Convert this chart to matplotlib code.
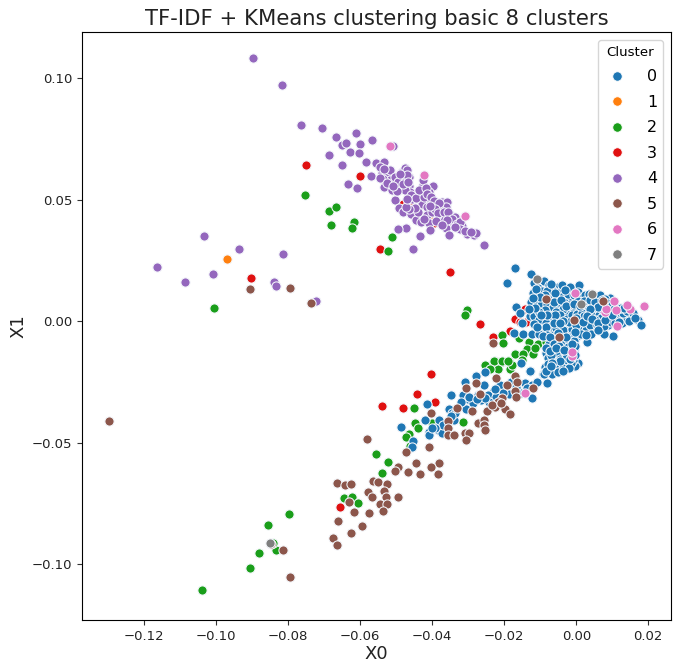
import matplotlib
matplotlib.use("Agg")
import matplotlib.pyplot as plt
from matplotlib.lines import Line2D

# values in thousandths of the axis units
c0 = [(-17.1,21.9),(-19.1,15.9),(-12.6,19.2),(-11.6,15.9),(-8.9,16.6),(-7.7,14.8),(-5.1,14.1),(0.7,14.7),(-1.2,12.5),(-12,11.6),
(-6.8,12.7),(-12.6,7.9),(-16.7,5.9),(-15.7,3.4),(-9.1,10),(-6.3,10),(-4.5,12),(-1.8,9.3),(-4.9,7),(-0.9,5.6),(-7.4,3.9),(-2.6,2.9),
(-12.8,2),(-11.6,2.2),(-9.3,1.5),(-15.1,-0.6),(-17.2,-4.8),(-14.9,-5.1),(-12.3,-5.1),(-9.7,-3.4),(-7.4,-0.7),(-6.5,-4.8),(-3.1,-1),
(-2.4,-4.8),(0.2,-6),(2.9,-8.7),(1.7,-2.1),(3.6,0.4),(5.9,4.2),(3.2,7),(5.7,9.3),(9.3,9.7),(8.9,1.8),(8.9,-1.7),(10.1,-6.2),(13.1,-0.3),
(17.1,0.4),(17.9,-1.7),(12,1.1),(13.6,2),(7.1,-0.3),(4.8,-3),(7.6,-5.1),
(-8.3,-12.9),(-6.7,-10.6),(-3.8,-14.4),(-0.7,-11.9),(-4.9,-18.8),(-7.2,-19.5),(-9.1,-21.8),(-6.8,-21.6),(-8.2,-25.3),(-4.4,-11.9),
(-6.1,-16.1),(-2.6,-16.8),(0.4,-17.4),(-0.3,-18.5),(-3.5,-10.9),(-15.4,-17.4),(-12.8,-20.6),
(-8.4,-13),(-12.9,-20.4),(-9,-21.8),(-25.3,-21.1),(-27.9,-22.6),(-30.8,-25),(-25.5,-26.1),(-21.1,-26.3),(-23,-29.1),(-14.2,-25.6),
(-12.3,-26.3),(-18.2,-25.2),(-18.8,-29.8),(-15.4,-29.5),(-12.4,-31.8),(-27.4,-30.2),(-31.4,-30.2),(-34.7,-30.2),(-30,-32),(-23.6,-32.8),
(-28.7,-33.5),(-26.4,-32.5),(-41.3,-33.9),(-35.2,-36.1),(-30.6,-36.3),(-34.5,-38),(-33.8,-40.7),(-38.2,-40.5),(-41.9,-40.7),(-48.7,-43.5),
(-40.8,-45.5),(-38.4,-44.8),(-37.3,-45.9),(-45.2,-49.2),(-45.6,-51.7),(-24.5,-30.4),(-20.2,-29.5),(-10.9,-25.2),(-8.6,-18.8),(-22.2,-31.1),(-41,-46.9),
(-10.5,13.5),(-9.6,12.2),(-8.2,12.5),(-7.2,9.2),(-10.8,8.3),(-9.7,6.8),(-8.1,7.2),(-6.5,6),(-5.5,9.2),(-3.6,10.4),(-3.3,7.9),(-2.3,11.3),(-0.5,10.8),
(0.6,11.9),(1.5,9.6),(0.4,8.4),(2.4,10.8),(3.5,11.3),(4.6,9.9),(6.7,10.6),(7.9,9.1),(6.5,7.2),(4.9,6.6),(2.6,5.2),(1,4.6),(-1.9,6.6),(-3.8,5.2),
(-5.6,3.8),(-6.9,2.1),(-8.6,4.4),(-10.4,3.9),(-11.4,5.6),(-13.2,4.8),(-10.3,0.4),(-11.6,-1.2),(-8.5,-0.7),(-7.1,-2.2),(-5.3,0.8),(-4.4,2.4),(-2.6,0.9),
(-1.2,2.4),(0.3,2.8),(1.7,3.3),(3.4,3.1),(4.6,2.3),(6.2,2.4),(7.7,3.6),(9.2,4.1),(10.6,3.2),(11.5,2.6),(10.1,1.2),(6.8,1.1),(5.2,0.6),(2.4,1.1),(0.8,0.3),
(-1.1,-0.8),(-4.2,-2.6),(-5.7,-2.8),(-8.4,-2.6),(-10.4,-5.2),(-8.2,-5.8),(-3.7,-3.8),(-1.2,-3.1),(0.6,-2.4),(2.8,-3.6),(3.9,-1.6),(5.7,-1.6),(7.8,-2.2),
(9.6,-0.2),(11.2,0.2),(12.6,-0.9),(14.2,1.2),(15.1,2.2),(13.1,3.4),(14.1,4.1),(10.8,-0.8),(8.1,6.6),(4.2,-5.4),(1.4,-5.4),(-1.6,-6.6),(-4.1,-6.6),(-6.9,-7.1),
(-7.7,-9.5),(-5.8,-8.2),(-3.9,-8.4),(-1.9,-8.2),(-0.5,-8.1),(-2.2,-10.8),(-0.4,-10.1),(-6.4,-12.6),(-5.1,-13.4),(-7.8,-15.2),(-6.9,-14.1),(-4.6,-15.6),(-3.1,-12.9),
(-1.9,-14),(-2.9,-15.2),(-0.9,-15.8),(-1.4,-17.4),(-3.6,-17.6),(-5.8,-18),(-7.9,-17.6),(-8.3,-20.4),(-3.6,-19.4),(-2.1,-19.2),(-5.1,-20.8),
(-11.2,13.4),(-7,15.1),(-4,14.9),(-1.6,13.9),(-6,11.4),(-3.2,12.8),(-8.8,10.6),(-10.2,10.1),(-12,9.6),(-6.1,7.9),(-4.2,8.9),(-2.8,6.1),(-0.6,7.2),(1.1,6.1),(2.2,8.1),
(3.8,8.6),(5.2,7.9),(7.1,8.6),(8.6,7.6),(9.8,6.6),(11.2,5.9),(12.4,5.4),(13.2,5.6),(10.5,5.1),(7.1,5.2),(6,5.8),(3.7,4.9),(2.1,2.2),(-0.2,1.4),(-2,-0.2),(-3.6,0.1),(-5.9,2.6),
(-8,2.6),(-9.8,2.7),(-10.9,-2.6),(-9.2,-6.1),(-6.2,-0.9),(-4.6,-0.6),(-0.2,-1.4),(1.9,-0.4),(2.9,2.1),(4.4,0.8),(6,-0.7),(8.1,0.6),(9.9,2.4),(12,-0.2),(14.6,0.1),(15.8,3.4),(16.2,1.2),
(6.1,-3.8),(2.6,-5.9),(-0.4,-4.4),(-2.8,-6.7),(-5.1,-5),(-7.4,-6.6),(-6.1,-9.6),(-8.4,-11),(-7.2,-12.4),(-4.8,-10.2),(-1.1,-9.6),(-5.6,-11.1),(-3.3,-11.9),(-4.4,-16.6),(-6.6,-17.4),(-7.1,-18.6),
(-3.8,-20.6),(-1.6,-15.4),(-0.4,-13.8),(-24.1,-33.3),(-25.4,-31.6),(-29.8,-31.3),(-27.6,-32),(-32.1,-33.2),(-22.6,-27.8),(-16.8,-27.2),(-13.6,-27.6),(-37.1,-42.8),(-39.2,-44.1),(-40.1,-43.8),(-33.6,-37.8),(-34.9,-39.2)]
c1 = [(-96.9,25.5),(-6.2,8.6),(-40.8,42.4)]
c2 = [(-75.3,51.9),(-68.6,45.3),(-66.7,46.9),(-68,39.5),(-61.7,40.9),(-62.3,38.3),(-51.2,34.8),(-52.3,28.9),(-100.6,5.3),(-30.3,4.5),(-30.8,2.5),
(-20.7,-5.9),(-20.2,-9.2),(-15.8,-6.9),(-13.2,-8.5),(-10.7,-9.3),(-8.5,-8.7),(-13.6,-11.5),(-12.1,-13.6),(-17,-13.6),(-14.8,-13.6),(-11.4,-10.9),
(-22.5,-16.2),(-20.7,-16.8),(-18.8,-16.5),(-23.4,-18.1),(-21.6,-19.5),(-18.5,-19.5),(-17.7,-18.1),(-15.1,-16.1),(-22.7,-16.3),(-20.6,-16.6),(-19,-16.3),(-25.4,-17.9),
(-24,-19.5),(-45,-35.9),(-40.1,-41.8),(-44.8,-42.1),(-43.8,-43.9),(-46.3,-46.5),(-47.2,-47.6),(-46.1,-51.3),(-31.5,-41.4),(-55.7,-54.7),(-52.2,-57.9),(-53.9,-62.4),
(-64.4,-72.8),(-62.2,-72.4),(-60.6,-74.9),(-85.6,-84),(-79.7,-79.4),(-88,-95.5),(-90.6,-101.6),(-83.3,-94.2),(-84.2,-91.4),(-103.9,-110.7)]
c3 = [(-75,64.2),(-60.1,59.7),(-54.4,29.7),(-48.2,48.4),(-46.4,47.9),(-39.6,40.2),(-35,20.2),(-90.3,17.7),(-26.7,-1.2),(-40.4,-21.9),(-44.1,-30),(-39.2,-33.2),
(-54,-35),(-48.1,-35.8),(-65.6,-76.5),(-14.2,4.9),(-17.1,0.7),(-13.9,-0.3),(-18.3,-4),(-23.1,-6.5),(-7.2,1.8),(-15.6,-0.3)]
c4 = [(-89.7,108.2),(-81.7,97.1),(-76.4,80.7),(-70.6,79.4),(-66.7,75.7),(-68.6,68.3),(-65,72.4),(-72.2,8.2),(-116.4,22.2),(-108.6,16),(-103.3,35),(-93.6,29.6),(-100.8,19.3),
(-81.4,27.6),(-83.9,16),(-83.3,14.4),
(-61.2,77.5),(-56.8,74.5),(-63.8,73.4),(-59.9,73),(-62.9,69.7),(-60.3,69.3),(-50.8,72),(-58.3,65.4),(-65.1,64.2),(-55.7,64.9),(-53.4,65.4),(-57.1,59.8),(-63.4,56.4),
(-61,54.7),(-54,60.8),(-52.5,60.5),(-51.7,58),(-53.3,55.4),(-51.2,53.9),(-49.4,55.7),(-48.5,61.4),(-47.4,63.2),(-46.3,59.4),(-46.3,55.5),(-46.2,53.2),(-50.4,49.8),
(-49.3,46.6),(-48.2,44.8),(-45.9,43.9),(-44.5,41.8),(-43.1,40.6),(-42.5,55.9),(-39.8,55.7),(-40.8,53.2),(-43.6,51.6),(-41.1,49.8),(-42.9,48.1),(-41.5,46.8),(-39.3,47.6),
(-37.4,49.2),(-36,49.1),(-36.2,47),(-41.3,43.6),(-37.5,42.1),(-40.9,40.2),(-40.6,37.7),(-36.2,38.5),(-34.1,40.7),(-33,41.5),(-35,43.6),(-31.6,39.1),(-35.2,35.5),(-30.3,35.9),
(-28.4,35.4),(-27.8,36.1),(-25.7,31.3),(-43.3,35.2),(-47.3,38.4),(-49.4,37.8),(-45.4,29.6),(-38.7,43.6),(-54.5,63.5),(-51.7,62),(-53.6,58.7),(-48.5,58.7),(-47.5,53.9),
(-49.7,53.6),(-45.7,50.4),(-40.1,45),(-37.8,45.7),(-33.7,42.9),(-47.1,62.1),(-42.6,58),
(-53.4,62.5),(-54.6,59.1),(-52.6,56.8),(-50.4,59.4),(-49.6,57.2),(-48.2,56.4),(-47,60.2),(-46.6,57.1),(-49,60.4),(-50.8,55.6),(-45.8,51.8),(-44.4,50.6),(-42.2,51.2),(-43.6,54.1),(-41.6,54.8),
(-41.4,52.4),(-40.2,51.2),(-39.6,49.6),(-38.1,48.6),(-39.2,46.1),(-40.6,47.4),(-38.4,44.4),(-36.8,44.8),(-35.6,45.1),(-34.6,42.2),(-33.2,40.1),(-32.4,40.6),(-35.9,41.6),(-38.9,41.2),(-42.2,42.2),
(-43.8,44.8),(-44.8,46.6),(-46.4,46.1),(-47.2,47.1),(-46.9,50.2),(-32.2,37.8),(-30.9,37.2),(-29.1,36.6),(-33.6,38.6),(-37.4,39.6)]
c5 = [(-22.3,-23.6),(-27.8,-25.6),(-16.9,-22.5),(-16.4,-25.2),(-19.3,-26.3),(-17.1,-28.7),(-16.8,-31.1),(-30.6,-27.7),(-20.6,-31.8),(-21.6,-33.2),(-24.7,-37),(-19.7,-36.2),
(-18.4,-38.3),(-22.5,-35.2),(-33.1,-35.9),(-28.9,-37),(-40.4,-37.7),(-35.5,-41),(-35.6,-43.8),(-27.4,-42.1),(-25.6,-40.7),(-25.5,-42.8),(-25.3,-44.6),(-35.5,-46.9),(-33.8,-46.9),
(-31,-45.9),(-29.8,-45.9),(-30.7,-49),(-58,-48.7),(-40.9,-51.8),(-47.3,-53.9),(-44.4,-58.3),(-38.1,-58.2),(-40.3,-60.1),(-49.4,-60.1),(-50.4,-61.7),(-46.7,-61.9),(-43.5,-63),
(-38.5,-63),(-56.5,-65.6),(-55.1,-66.3),(-52.4,-66.9),(-57.8,-70.2),(-53.5,-70.1),(-52.9,-72.3),(-49.4,-72.3),(-54.4,-75.3),(-52.4,-75.3),(-23.4,-34.5),(-21,-33.5),
(-8.4,9.3),(7.4,8.1),(-0.7,0.4),(-4.9,-6.6),(-23,-8.9),(-12,-27.7),(-26.7,-29.8),
(-129.7,-41.2),(-66.4,-66.7),(-64.2,-67.5),(-62.5,-67.1),(-63.1,-74.5),(-66.1,-82.3),(-67.5,-89.3),(-66.4,-92.2),(-62.5,-87.2),(-59.4,-84.4),(-57.5,-79),(-61.7,-78.6),(-53.6,-78.2),
(-56.7,-72.4),(-81.4,-94.2),(-84.7,-91.8),(-79.4,-105.3),(-79.4,13.6),(-90.6,13.2),(-73.6,7.4)]
c6 = [(18.9,6.3),(14.9,4.9),(14.2,6.8),(11,4.5),(8.1,3.8),(8.3,5.2),(11.3,-2.1),(-1.2,-14.3),(10.4,8.3),(-0.3,11.6),(-1.2,-12.6),(-42.4,60),(-30.8,43.2),(-51.7,72.1),(-14.2,-29.4)]
c7 = [(-10.8,17.5),(1.4,7),(4.3,11),(-85,-91.4)]

clusters = [c0, c1, c2, c3, c4, c5, c6, c7]
labels = ["0", "1", "2", "3", "4", "5", "6", "7"]
colors = ["#1f77b4", "#ff7f0e", "#1a9e1a", "#e01010", "#9467bd", "#8c564b", "#e377c2", "#7f7f7f"]
zorders = {3: 2.0, 1: 2.1, 2: 2.2, 4: 2.3, 0: 2.4, 6: 2.5, 5: 2.6, 7: 2.7}

fig = plt.figure(figsize=(6.8, 6.72), dpi=100)
ax = fig.add_axes([82/680, 1-620/672, (671-82)/680, (620-32)/672])

for i in [3, 1, 2, 4, 0, 6, 5, 7]:
    xs = [p[0]/1000 for p in clusters[i]]
    ys = [p[1]/1000 for p in clusters[i]]
    ax.scatter(xs, ys, s=44, c=colors[i], edgecolors="#f4f7fb", linewidths=0.75, zorder=zorders[i])

ax.set_xlim(-0.1372, 0.0263)
ax.set_ylim(-0.1230, 0.1190)
ax.set_xticks([-0.12, -0.10, -0.08, -0.06, -0.04, -0.02, 0.00, 0.02])
ax.set_yticks([-0.10, -0.05, 0.00, 0.05, 0.10])
ax.set_xticklabels(["\u22120.12", "\u22120.10", "\u22120.08", "\u22120.06", "\u22120.04", "\u22120.02", "0.00", "0.02"])
ax.set_yticklabels(["\u22120.10", "\u22120.05", "0.00", "0.05", "0.10"])
ax.tick_params(labelsize=9.5, length=3.5, color="#333333", labelcolor="#222222")
ax.set_title("TF-IDF + KMeans clustering basic 8 clusters", fontsize=15.2, pad=5, color="#222222")
ax.set_xlabel("X0", fontsize=13, labelpad=1.5, color="#222222")
ax.set_ylabel("X1", fontsize=13, labelpad=3, color="#222222")

handles = [Line2D([], [], linestyle="none", marker="o", markersize=6.8, markerfacecolor=c,
                  markeredgecolor="white", markeredgewidth=0.6) for c in colors]
ax.legend(handles, labels, title="Cluster", loc="upper right", fontsize=11.5, title_fontsize=9.6,
          labelspacing=0.66, handlelength=1.7, handletextpad=1.05, borderaxespad=0.5, borderpad=0.35)

fig.savefig("out.png", dpi=100)
